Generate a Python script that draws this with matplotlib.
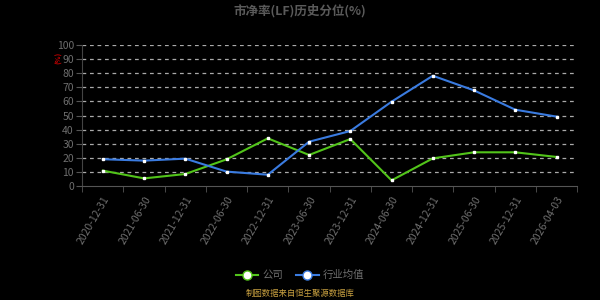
import numpy as np
import matplotlib
matplotlib.use('Agg')
import matplotlib.pyplot as plt

plt.rcParams['font.family'] = ['Noto Sans CJK SC', 'DejaVu Sans']

# data
dates = ['2020-12-31', '2021-06-30', '2021-12-31', '2022-06-30', '2022-12-31',
         '2023-06-30', '2023-12-31', '2024-06-30', '2024-12-31', '2025-06-30',
         '2025-12-31', '2026-04-03']
company = [10.9, 5.4, 8.5, 18.9, 33.8, 22.0, 33.3, 4.0, 19.6, 23.9, 23.9, 20.6]
industry = [19.0, 18.0, 19.4, 10.2, 8.0, 31.4, 39.0, 59.8, 78.2, 67.8, 54.1, 49.2]

bg = '#000000'
txt = '#6e6e6e'

fig = plt.figure(figsize=(6, 3), dpi=100, facecolor=bg)
ax = fig.add_axes([0.137, 0.38, 0.825, 0.47], facecolor=bg)

x = np.arange(len(dates))
ax.plot(x, company, color='#52c41a', lw=1.5, marker='s', ms=2,
        mfc='white', mec='white', label='公司', zorder=3)
ax.plot(x, industry, color='#3a7be0', lw=1.5, marker='s', ms=2,
        mfc='white', mec='white', label='行业均值', zorder=3)

ax.set_xlim(-0.5, len(dates) - 0.5)
ax.set_ylim(0, 100)
ax.set_yticks(np.arange(0, 101, 10))
ax.set_xticks(x)
ax.set_xticks(np.arange(-0.5, len(dates), 1), minor=True)
ax.set_xticklabels(dates, rotation=60, ha='right', rotation_mode='anchor')
ax.tick_params(axis='x', which='major', length=0, labelsize=7.5, colors=txt, pad=6)
ax.tick_params(axis='x', which='minor', length=4, color='#555555')
ax.tick_params(axis='y', length=4, labelsize=7.5, colors=txt, color='#555555', pad=2)

for v in range(10, 101, 10):
    ax.axhline(v, color='#aaaaaa', lw=0.9, ls=(0, (3, 3)), zorder=1)

for s in ['top', 'right']:
    ax.spines[s].set_visible(False)
ax.spines['left'].set_color('#444444')
ax.spines['bottom'].set_color('#555555')

fig.text(0.5, 0.965, '市净率(LF)历史分位(%)', ha='center', va='center',
         fontsize=9, fontweight='bold', color='#5a5a5a')
fig.text(0.098, 0.808, '(%)', ha='center', va='center', rotation=90,
         fontsize=5, color='#cc0000', fontweight='bold')

leg = fig.legend(loc='center', bbox_to_anchor=(0.5, 0.083), ncol=2, frameon=False,
                 fontsize=7.5, handlelength=2.2, columnspacing=1.2, handletextpad=0.4)
for h in leg.legend_handles:
    h.set_marker('o')
    h.set_markersize(6.5)
    h.set_markerfacecolor('white')
    h.set_markeredgecolor(h.get_color())
    h.set_markeredgewidth(1.0)
for t in leg.get_texts():
    t.set_color(txt)

fig.text(0.5, 0.022, '制图数据来自恒生聚源数据库', ha='center', va='center',
         fontsize=6, color='#c8a040')

fig.savefig('out.png', dpi=100, facecolor=bg)
